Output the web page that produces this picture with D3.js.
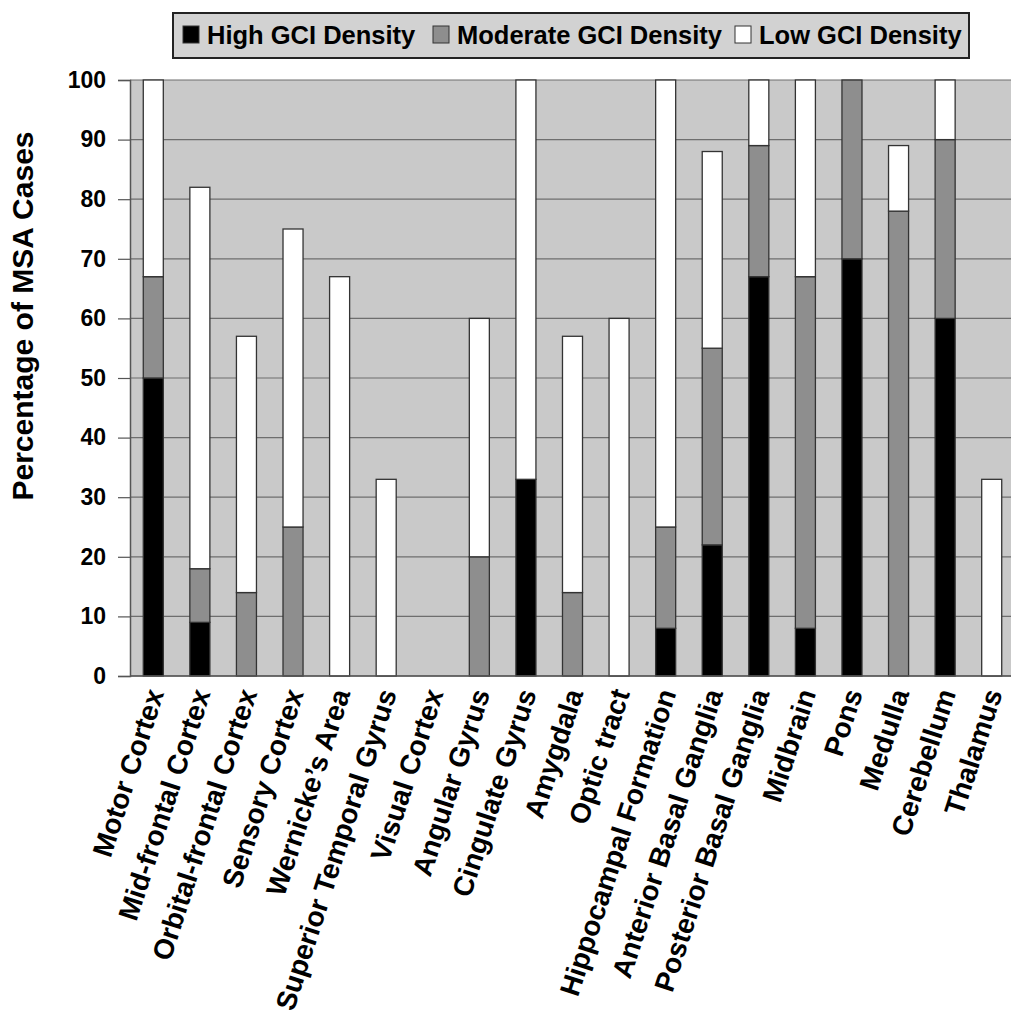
<!DOCTYPE html>
<html><head><meta charset="utf-8">
<script src="https://cdn.jsdelivr.net/npm/d3@7"></script>
<style>body{margin:0;background:#fff}</style>
</head><body>
<svg id="chart" width="1011" height="1021"></svg>
<script>
const categories = ["Motor Cortex","Mid-frontal Cortex","Orbital-frontal Cortex","Sensory Cortex","Wernicke\u2019s Area","Superior Temporal Gyrus","Visual Cortex","Angular Gyrus","Cingulate Gyrus","Amygdala","Optic tract","Hippocampal Formation","Anterior Basal Ganglia","Posterior Basal Ganglia","Midbrain","Pons","Medulla","Cerebellum","Thalamus"];
const highValues     = [50, 9, 0, 0, 0, 0, 0, 0,33, 0, 0, 8,22,67, 8,70, 0,60, 0];
const moderateValues = [17, 9,14,25, 0, 0, 0,20, 0,14, 0,17,33,22,59,30,78,30, 0];
const lowValues      = [33,64,43,50,67,33, 0,40,67,43,60,75,33,11,33, 0,11,10,33];
const seriesNames = ["High GCI Density","Moderate GCI Density","Low GCI Density"];
const seriesColors = ["#000000","#8e8e8e","#ffffff"];
const yTicks = [0,10,20,30,40,50,60,70,80,90,100];
const yTitle = "Percentage of MSA Cases";

(function(){
const svg = d3.select("#chart");
const pL = 130, pR = 1015, pT = 80, pB = 676;
const FONT = "'Liberation Sans', Arial, Helvetica, sans-serif";

const table = categories.map((c,i)=>({cat:c, high:highValues[i], moderate:moderateValues[i], low:lowValues[i]}));
const keys = ["high","moderate","low"];
const stacked = d3.stack().keys(keys)(table);

const x = d3.scaleBand().domain(categories).range([pL,pR]).paddingInner(0.57).paddingOuter(0.285);
const y = d3.scaleLinear().domain([0,100]).range([pB,pT]);

svg.append("rect").attr("x",pL).attr("y",pT).attr("width",pR-pL).attr("height",pB-pT).attr("fill","#c9c9c9");

svg.append("g").selectAll("line").data(yTicks).join("line")
  .attr("x1",pL).attr("x2",pR).attr("y1",d=>y(d)).attr("y2",d=>y(d))
  .attr("stroke","#6e6e6e").attr("stroke-width",1.2);

svg.append("g").selectAll("g").data(stacked).join("g")
  .attr("fill",(d,i)=>seriesColors[i])
  .selectAll("rect").data(d=>d.filter(s=>s[1]-s[0]>0)).join("rect")
  .attr("x",d=>x(d.data.cat)).attr("width",x.bandwidth())
  .attr("y",d=>y(d[1])).attr("height",d=>y(d[0])-y(d[1]))
  .attr("stroke","#333").attr("stroke-width",1.3);

const yAxis = svg.append("g").attr("transform",`translate(${pL},0)`)
  .call(d3.axisLeft(y).tickValues(yTicks).tickSize(12).tickPadding(12));
yAxis.select(".domain").attr("stroke","#555").attr("stroke-width",1.5);
yAxis.selectAll(".tick line").attr("stroke","#555").attr("stroke-width",1.2);
yAxis.selectAll("text").attr("font-family",FONT).attr("font-weight","bold").attr("font-size",23).attr("fill","#000");

svg.append("line").attr("x1",pL).attr("x2",pR).attr("y1",pB).attr("y2",pB).attr("stroke","#555").attr("stroke-width",1.5);

svg.append("g").selectAll("text").data(categories).join("text")
  .attr("transform",d=>`translate(${x(d)+x.bandwidth()/2+11},${pB+17}) rotate(-72)`)
  .attr("text-anchor","end")
  .attr("font-family",FONT).attr("font-weight","bold").attr("font-size",28).attr("fill","#000")
  .text(d=>d);

svg.append("text").attr("transform","translate(33,316) rotate(-90)")
  .attr("text-anchor","middle").attr("font-family",FONT).attr("font-weight","bold").attr("font-size",30)
  .text(yTitle);

const lg = svg.append("g");
lg.append("rect").attr("x",173).attr("y",13).attr("width",796).attr("height",45)
  .attr("fill","#d2d2d2").attr("stroke","#222").attr("stroke-width",2);
const legendX = [183, 433, 735];
const items = lg.selectAll("g.item").data(seriesNames).join("g").attr("class","item")
  .attr("transform",(d,i)=>`translate(${legendX[i]},0)`);
items.append("rect").attr("x",0).attr("y",26).attr("width",16).attr("height",17)
  .attr("fill",(d,i)=>seriesColors[i]).attr("stroke","#333").attr("stroke-width",1);
items.append("text").attr("x",24).attr("y",44)
  .attr("font-family",FONT).attr("font-weight","bold").attr("font-size",25.5)
  .text(d=>d);
})();
</script>
</body></html>
